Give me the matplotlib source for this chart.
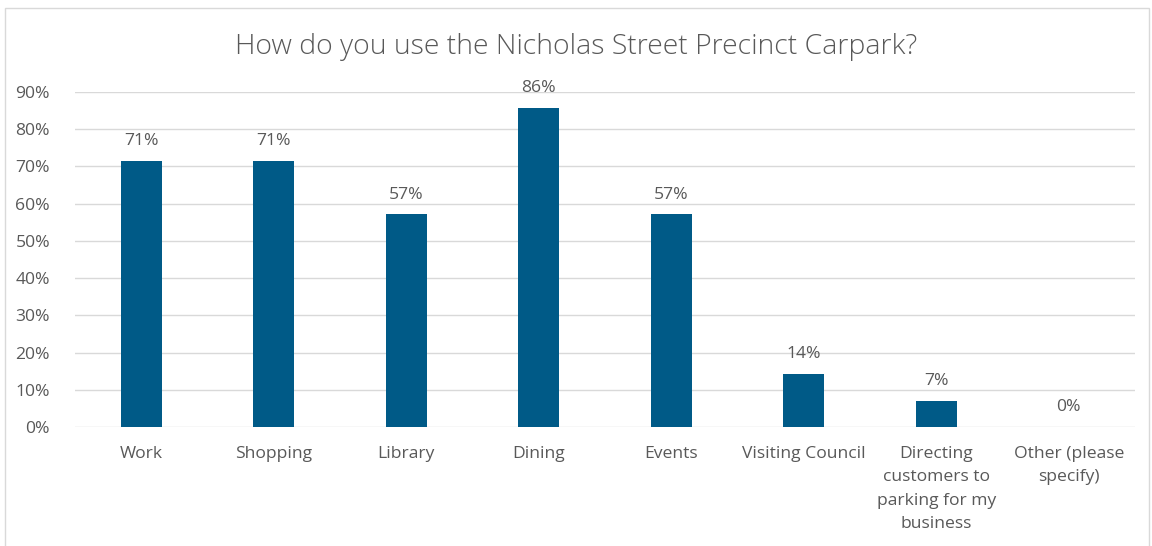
import matplotlib
matplotlib.use("Agg")
import matplotlib.pyplot as plt
from matplotlib.patches import Rectangle

categories = ["Work", "Shopping", "Library", "Dining", "Events", "Visiting Council",
              "Directing\ncustomers to\nparking for my\nbusiness", "Other (please\nspecify)"]
values = [0.714, 0.714, 0.571, 0.857, 0.571, 0.143, 0.071, 0.0]
labels = ["71%", "71%", "57%", "86%", "57%", "14%", "7%", "0%"]
yticks = [0, 0.1, 0.2, 0.3, 0.4, 0.5, 0.6, 0.7, 0.8, 0.9]
ytick_labels = ["0%", "10%", "20%", "30%", "40%", "50%", "60%", "70%", "80%", "90%"]
title = "How do you use the Nicholas Street Precinct Carpark?"

plt.rcParams['font.family'] = ['Open Sans', 'DejaVu Sans']
txt = "#595959"
bar_color = "#005A87"

fig = plt.figure(figsize=(11.52, 5.46), dpi=100)
fig.patches.append(Rectangle((5/1152, -0.1), (1149-5)/1152, 1 - 8/546 + 0.1,
                             transform=fig.transFigure, fill=False,
                             edgecolor="#D9D9D9", linewidth=1.0))
ax = fig.add_axes([75/1152, 1-427/546, (1135-75)/1152, (427-92)/546])
x = list(range(len(categories)))
ax.bar(x, values, width=0.31, color=bar_color, zorder=3)
ax.set_xlim(-0.5, len(categories)-0.5)
ax.set_ylim(0, 0.9)
ax.set_yticks(yticks)
ax.set_yticklabels(ytick_labels)
ax.set_xticks(x)
ax.set_xticklabels(categories, linespacing=1.62, va="top")
ax.tick_params(axis="both", length=0, colors=txt, labelsize=12.6)
ax.tick_params(axis="x", pad=13.5)
ax.tick_params(axis="y", pad=18)
for lbl in ax.get_yticklabels():
    lbl.set_color(txt)
for lbl in ax.get_xticklabels():
    lbl.set_color(txt)
ax.grid(axis="y", color="#D9D9D9", linewidth=1.0, zorder=0)
for s in ax.spines.values():
    s.set_visible(False)
for xi, v, l in zip(x, values, labels):
    ax.annotate(l, (xi, v), xytext=(0, 8.5), textcoords="offset points",
                ha="center", va="bottom", fontsize=12.6, color=txt)
fig.text(0.5, 1-47/546, title, ha="center", va="center", fontsize=20.4,
         color=txt, fontweight="light")
fig.savefig("out.png", dpi=100)
